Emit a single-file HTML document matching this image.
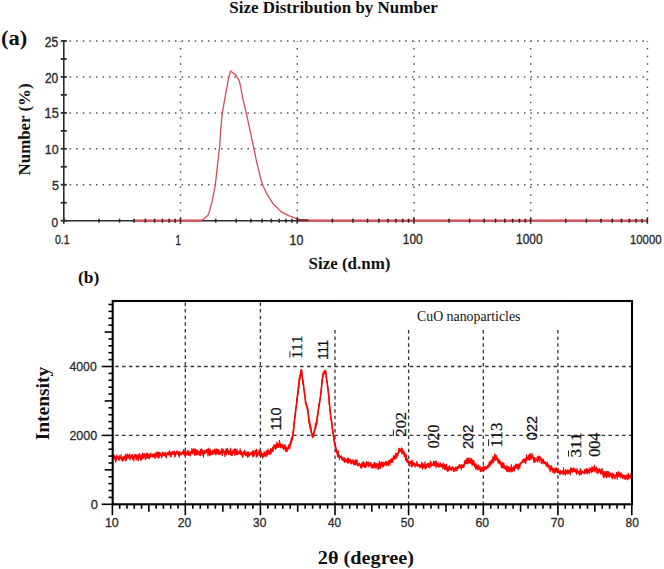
<!DOCTYPE html><html><head><meta charset="utf-8"><style>html,body{margin:0;padding:0;background:#fff;width:664px;height:569px;overflow:hidden}svg{display:block}</style></head><body>
<svg width="664" height="569" viewBox="0 0 664 569">
<rect width="664" height="569" fill="#fff"/>
<line x1="63.8" y1="184.76" x2="647.90" y2="184.76" stroke="#555" stroke-width="1.5" stroke-dasharray="1.5 5.084" stroke-dashoffset="-5.834"/>
<line x1="63.8" y1="148.82" x2="647.90" y2="148.82" stroke="#555" stroke-width="1.5" stroke-dasharray="1.5 5.084" stroke-dashoffset="-5.834"/>
<line x1="63.8" y1="112.88" x2="647.90" y2="112.88" stroke="#555" stroke-width="1.5" stroke-dasharray="1.5 5.084" stroke-dashoffset="-5.834"/>
<line x1="63.8" y1="76.94" x2="647.90" y2="76.94" stroke="#555" stroke-width="1.5" stroke-dasharray="1.5 5.084" stroke-dashoffset="-5.834"/>
<line x1="63.8" y1="41.00" x2="647.90" y2="41.00" stroke="#555" stroke-width="1.5" stroke-dasharray="1.5 5.084" stroke-dashoffset="-5.834"/>
<line x1="180.52" y1="41.00" x2="180.52" y2="220.70" stroke="#555" stroke-width="1.5" stroke-dasharray="1.5 6.200" stroke-dashoffset="0.75"/>
<line x1="297.24" y1="41.00" x2="297.24" y2="220.70" stroke="#555" stroke-width="1.5" stroke-dasharray="1.5 6.200" stroke-dashoffset="0.75"/>
<line x1="413.96" y1="41.00" x2="413.96" y2="220.70" stroke="#555" stroke-width="1.5" stroke-dasharray="1.5 6.200" stroke-dashoffset="0.75"/>
<line x1="530.68" y1="41.00" x2="530.68" y2="220.70" stroke="#555" stroke-width="1.5" stroke-dasharray="1.5 6.200" stroke-dashoffset="0.75"/>
<line x1="647.40" y1="41.00" x2="647.40" y2="220.70" stroke="#555" stroke-width="1.5" stroke-dasharray="1.5 6.200" stroke-dashoffset="0.75"/>
<line x1="63.8" y1="40.20" x2="63.8" y2="221.50" stroke="#2b2b2b" stroke-width="1.6"/>
<line x1="60.8" y1="220.70" x2="66.8" y2="220.70" stroke="#2b2b2b" stroke-width="1.8"/>
<line x1="60.8" y1="202.73" x2="66.8" y2="202.73" stroke="#2b2b2b" stroke-width="1.8"/>
<line x1="60.8" y1="184.76" x2="66.8" y2="184.76" stroke="#2b2b2b" stroke-width="1.8"/>
<line x1="60.8" y1="166.79" x2="66.8" y2="166.79" stroke="#2b2b2b" stroke-width="1.8"/>
<line x1="60.8" y1="148.82" x2="66.8" y2="148.82" stroke="#2b2b2b" stroke-width="1.8"/>
<line x1="60.8" y1="130.85" x2="66.8" y2="130.85" stroke="#2b2b2b" stroke-width="1.8"/>
<line x1="60.8" y1="112.88" x2="66.8" y2="112.88" stroke="#2b2b2b" stroke-width="1.8"/>
<line x1="60.8" y1="94.91" x2="66.8" y2="94.91" stroke="#2b2b2b" stroke-width="1.8"/>
<line x1="60.8" y1="76.94" x2="66.8" y2="76.94" stroke="#2b2b2b" stroke-width="1.8"/>
<line x1="60.8" y1="58.97" x2="66.8" y2="58.97" stroke="#2b2b2b" stroke-width="1.8"/>
<line x1="60.8" y1="41.00" x2="66.8" y2="41.00" stroke="#2b2b2b" stroke-width="1.8"/>
<line x1="63.8" y1="220.7" x2="647.90" y2="220.7" stroke="#2b2b2b" stroke-width="1.6"/>
<polyline fill="none" stroke="#dc4c56" stroke-width="1.3" stroke-linejoin="round" points="200.80,220.70 203.60,219.00 207.90,215.40 209.50,211.20 212.10,201.30 215.30,185.10 217.40,166.10 218.80,153.50 219.80,145.00 220.80,128.40 222.30,112.90 225.80,93.20 228.90,77.00 230.60,70.90 235.70,74.90 239.20,80.60 240.40,85.50 242.70,98.20 246.30,113.00 249.10,126.30 254.00,148.90 256.20,160.00 258.60,170.00 260.70,178.50 262.60,184.70 267.00,194.10 273.00,203.70 281.00,211.60 288.70,215.60 297.00,218.90 300.00,219.50"/>
<line x1="134.07" y1="220.7" x2="201.5" y2="220.7" stroke="#dc4c56" stroke-width="2.2"/>
<line x1="298" y1="220.29999999999998" x2="308.5" y2="220.29999999999998" stroke="#8a2a2e" stroke-width="2.4"/>
<line x1="308.5" y1="220.7" x2="647.90" y2="220.7" stroke="#dc4c56" stroke-width="2.2"/>
<line x1="63.80" y1="217.7" x2="63.80" y2="223.7" stroke="#2b2b2b" stroke-width="1.6"/>
<line x1="98.94" y1="218.7" x2="98.94" y2="222.7" stroke="#2b2b2b" stroke-width="1.6"/>
<line x1="119.49" y1="218.7" x2="119.49" y2="222.7" stroke="#2b2b2b" stroke-width="1.6"/>
<line x1="134.07" y1="218.7" x2="134.07" y2="222.7" stroke="#2b2b2b" stroke-width="1.6"/>
<line x1="145.38" y1="218.7" x2="145.38" y2="222.7" stroke="#2b2b2b" stroke-width="1.6"/>
<line x1="154.63" y1="218.7" x2="154.63" y2="222.7" stroke="#2b2b2b" stroke-width="1.6"/>
<line x1="162.44" y1="218.7" x2="162.44" y2="222.7" stroke="#2b2b2b" stroke-width="1.6"/>
<line x1="169.21" y1="218.7" x2="169.21" y2="222.7" stroke="#2b2b2b" stroke-width="1.6"/>
<line x1="175.18" y1="218.7" x2="175.18" y2="222.7" stroke="#2b2b2b" stroke-width="1.6"/>
<line x1="180.52" y1="217.7" x2="180.52" y2="223.7" stroke="#2b2b2b" stroke-width="1.6"/>
<line x1="215.66" y1="218.7" x2="215.66" y2="222.7" stroke="#2b2b2b" stroke-width="1.6"/>
<line x1="236.21" y1="218.7" x2="236.21" y2="222.7" stroke="#2b2b2b" stroke-width="1.6"/>
<line x1="250.79" y1="218.7" x2="250.79" y2="222.7" stroke="#2b2b2b" stroke-width="1.6"/>
<line x1="262.10" y1="218.7" x2="262.10" y2="222.7" stroke="#2b2b2b" stroke-width="1.6"/>
<line x1="271.35" y1="218.7" x2="271.35" y2="222.7" stroke="#2b2b2b" stroke-width="1.6"/>
<line x1="279.16" y1="218.7" x2="279.16" y2="222.7" stroke="#2b2b2b" stroke-width="1.6"/>
<line x1="285.93" y1="218.7" x2="285.93" y2="222.7" stroke="#2b2b2b" stroke-width="1.6"/>
<line x1="291.90" y1="218.7" x2="291.90" y2="222.7" stroke="#2b2b2b" stroke-width="1.6"/>
<line x1="297.24" y1="217.7" x2="297.24" y2="223.7" stroke="#2b2b2b" stroke-width="1.6"/>
<line x1="332.38" y1="218.7" x2="332.38" y2="222.7" stroke="#2b2b2b" stroke-width="1.6"/>
<line x1="352.93" y1="218.7" x2="352.93" y2="222.7" stroke="#2b2b2b" stroke-width="1.6"/>
<line x1="367.51" y1="218.7" x2="367.51" y2="222.7" stroke="#2b2b2b" stroke-width="1.6"/>
<line x1="378.82" y1="218.7" x2="378.82" y2="222.7" stroke="#2b2b2b" stroke-width="1.6"/>
<line x1="388.07" y1="218.7" x2="388.07" y2="222.7" stroke="#2b2b2b" stroke-width="1.6"/>
<line x1="395.88" y1="218.7" x2="395.88" y2="222.7" stroke="#2b2b2b" stroke-width="1.6"/>
<line x1="402.65" y1="218.7" x2="402.65" y2="222.7" stroke="#2b2b2b" stroke-width="1.6"/>
<line x1="408.62" y1="218.7" x2="408.62" y2="222.7" stroke="#2b2b2b" stroke-width="1.6"/>
<line x1="413.96" y1="217.7" x2="413.96" y2="223.7" stroke="#2b2b2b" stroke-width="1.6"/>
<line x1="449.10" y1="218.7" x2="449.10" y2="222.7" stroke="#2b2b2b" stroke-width="1.6"/>
<line x1="469.65" y1="218.7" x2="469.65" y2="222.7" stroke="#2b2b2b" stroke-width="1.6"/>
<line x1="484.23" y1="218.7" x2="484.23" y2="222.7" stroke="#2b2b2b" stroke-width="1.6"/>
<line x1="495.54" y1="218.7" x2="495.54" y2="222.7" stroke="#2b2b2b" stroke-width="1.6"/>
<line x1="504.79" y1="218.7" x2="504.79" y2="222.7" stroke="#2b2b2b" stroke-width="1.6"/>
<line x1="512.60" y1="218.7" x2="512.60" y2="222.7" stroke="#2b2b2b" stroke-width="1.6"/>
<line x1="519.37" y1="218.7" x2="519.37" y2="222.7" stroke="#2b2b2b" stroke-width="1.6"/>
<line x1="525.34" y1="218.7" x2="525.34" y2="222.7" stroke="#2b2b2b" stroke-width="1.6"/>
<line x1="530.68" y1="217.7" x2="530.68" y2="223.7" stroke="#2b2b2b" stroke-width="1.6"/>
<line x1="565.82" y1="218.7" x2="565.82" y2="222.7" stroke="#2b2b2b" stroke-width="1.6"/>
<line x1="586.37" y1="218.7" x2="586.37" y2="222.7" stroke="#2b2b2b" stroke-width="1.6"/>
<line x1="600.95" y1="218.7" x2="600.95" y2="222.7" stroke="#2b2b2b" stroke-width="1.6"/>
<line x1="612.26" y1="218.7" x2="612.26" y2="222.7" stroke="#2b2b2b" stroke-width="1.6"/>
<line x1="621.51" y1="218.7" x2="621.51" y2="222.7" stroke="#2b2b2b" stroke-width="1.6"/>
<line x1="629.32" y1="218.7" x2="629.32" y2="222.7" stroke="#2b2b2b" stroke-width="1.6"/>
<line x1="636.09" y1="218.7" x2="636.09" y2="222.7" stroke="#2b2b2b" stroke-width="1.6"/>
<line x1="642.06" y1="218.7" x2="642.06" y2="222.7" stroke="#2b2b2b" stroke-width="1.6"/>
<line x1="647.40" y1="217.7" x2="647.40" y2="223.7" stroke="#2b2b2b" stroke-width="1.6"/>
<line x1="112.7" y1="435.40" x2="632.0" y2="435.40" stroke="#333" stroke-width="1.3" stroke-dasharray="3.5 3.35" stroke-dashoffset="-2.5"/>
<line x1="112.7" y1="366.50" x2="632.0" y2="366.50" stroke="#333" stroke-width="1.3" stroke-dasharray="3.5 3.35" stroke-dashoffset="-2.5"/>
<line x1="185.30" y1="301.0" x2="185.30" y2="504.3" stroke="#333" stroke-width="1.3" stroke-dasharray="3.5 3.1" stroke-dashoffset="-1.5"/>
<line x1="260.40" y1="301.0" x2="260.40" y2="504.3" stroke="#333" stroke-width="1.3" stroke-dasharray="3.5 3.1" stroke-dashoffset="-1.5"/>
<line x1="335.00" y1="328.5" x2="335.00" y2="504.3" stroke="#333" stroke-width="1.3" stroke-dasharray="3.5 3.1" stroke-dashoffset="-1.5"/>
<line x1="408.60" y1="328.5" x2="408.60" y2="504.3" stroke="#333" stroke-width="1.3" stroke-dasharray="3.5 3.1" stroke-dashoffset="-1.5"/>
<line x1="483.30" y1="328.5" x2="483.30" y2="504.3" stroke="#333" stroke-width="1.3" stroke-dasharray="3.5 3.1" stroke-dashoffset="-1.5"/>
<line x1="557.90" y1="328.5" x2="557.90" y2="504.3" stroke="#333" stroke-width="1.3" stroke-dasharray="3.5 3.1" stroke-dashoffset="-1.5"/>
<polyline fill="none" stroke="#f00" stroke-width="1.2" stroke-linejoin="round" points="112.6,457.4 112.9,456.2 113.2,457.9 113.5,458.1 113.8,454.8 114.1,455.5 114.4,457.6 114.7,455.8 115.0,459.6 115.3,456.9 115.6,462.3 115.9,457.1 116.2,456.3 116.5,460.3 116.8,455.0 117.1,456.6 117.4,458.5 117.7,456.3 118.0,458.4 118.3,458.8 118.6,457.3 118.9,460.5 119.2,455.6 119.5,459.8 119.8,458.9 120.1,457.9 120.4,457.6 120.7,457.5 121.0,454.6 121.3,457.3 121.6,459.9 121.9,459.8 122.2,457.1 122.5,461.1 122.8,457.7 123.1,459.0 123.4,460.3 123.7,456.6 124.0,457.1 124.3,457.5 124.6,456.1 124.9,459.6 125.2,455.6 125.5,460.8 125.8,454.2 126.1,460.3 126.4,460.0 126.7,456.6 127.0,458.3 127.3,454.1 127.6,455.7 127.9,458.0 128.2,458.0 128.5,457.0 128.8,454.8 129.1,457.7 129.4,456.6 129.7,453.8 130.0,460.0 130.3,457.5 130.6,456.3 130.9,458.2 131.2,455.1 131.5,455.3 131.8,456.2 132.1,455.0 132.4,454.5 132.7,459.4 133.0,458.0 133.3,456.5 133.6,457.2 133.9,461.0 134.2,456.3 134.5,454.5 134.8,455.8 135.1,456.3 135.4,454.9 135.7,454.4 136.0,458.0 136.3,459.8 136.6,458.7 136.9,455.4 137.2,454.9 137.5,457.4 137.8,455.9 138.1,461.0 138.4,459.3 138.7,456.7 139.0,454.3 139.3,453.7 139.6,453.7 139.9,458.4 140.2,457.6 140.5,460.1 140.8,458.9 141.1,455.3 141.4,455.0 141.7,460.0 142.0,457.4 142.3,458.4 142.6,453.0 142.9,456.7 143.2,457.4 143.5,458.2 143.8,456.1 144.1,453.7 144.4,457.0 144.7,454.0 145.0,455.1 145.3,459.6 145.6,455.2 145.9,455.3 146.2,455.0 146.5,453.2 146.8,458.5 147.1,458.0 147.4,456.8 147.7,453.4 148.0,454.5 148.3,457.2 148.6,454.3 148.9,458.7 149.2,454.2 149.5,458.7 149.8,456.4 150.1,455.7 150.4,457.0 150.7,454.1 151.0,453.1 151.3,455.3 151.6,456.6 151.9,455.7 152.2,456.2 152.5,455.8 152.8,454.0 153.1,457.2 153.4,456.2 153.7,453.6 154.0,455.4 154.3,456.8 154.6,454.5 154.9,458.1 155.2,458.2 155.5,452.8 155.8,457.4 156.1,452.8 156.4,453.0 156.7,454.1 157.0,452.2 157.3,456.6 157.6,453.1 157.9,452.1 158.2,458.2 158.5,458.0 158.8,452.3 159.1,457.5 159.4,452.4 159.7,454.7 160.0,452.8 160.3,453.5 160.6,455.3 160.9,454.2 161.2,455.5 161.5,457.9 161.8,457.1 162.1,453.5 162.4,452.3 162.7,452.1 163.0,455.7 163.3,452.6 163.6,453.6 163.9,455.5 164.2,453.5 164.5,454.7 164.8,453.2 165.1,456.1 165.4,452.3 165.7,456.6 166.0,453.8 166.3,458.0 166.6,453.8 166.9,453.7 167.2,452.3 167.5,452.9 167.8,452.8 168.1,454.4 168.4,454.7 168.7,452.1 169.0,454.1 169.3,454.7 169.6,450.5 169.9,452.1 170.2,455.2 170.5,456.6 170.8,452.3 171.1,457.0 171.4,453.8 171.7,453.8 172.0,453.3 172.3,452.0 172.6,451.4 172.9,451.3 173.2,452.3 173.5,453.6 173.8,452.6 174.1,454.3 174.4,451.2 174.7,456.8 175.0,456.1 175.3,456.4 175.6,452.6 175.9,453.1 176.2,453.0 176.5,453.7 176.8,450.7 177.1,453.4 177.4,451.6 177.7,452.1 178.0,452.8 178.3,454.3 178.6,455.4 178.9,451.9 179.2,457.2 179.5,455.4 179.8,451.6 180.1,452.8 180.4,455.0 180.7,453.1 181.0,454.1 181.3,454.1 181.6,454.8 181.9,453.7 182.2,452.1 182.5,452.5 182.8,451.4 183.1,453.1 183.4,453.6 183.7,449.4 184.0,455.0 184.3,452.4 184.6,455.3 184.9,452.2 185.2,450.4 185.5,452.6 185.8,455.5 186.1,452.2 186.4,452.4 186.7,452.5 187.0,454.3 187.3,451.7 187.6,454.1 187.9,451.0 188.2,450.2 188.5,455.3 188.8,453.7 189.1,453.6 189.4,453.9 189.7,452.2 190.0,455.9 190.3,452.5 190.6,455.6 190.9,451.3 191.2,451.6 191.5,453.1 191.8,448.7 192.1,450.3 192.4,453.0 192.7,453.9 193.0,451.8 193.3,449.3 193.6,448.8 193.9,451.5 194.2,450.1 194.5,455.2 194.8,449.6 195.1,448.8 195.4,454.8 195.7,449.6 196.0,449.5 196.3,454.9 196.6,451.2 196.9,450.1 197.2,450.5 197.5,454.6 197.8,450.9 198.1,451.6 198.4,453.4 198.7,453.9 199.0,454.9 199.3,451.8 199.6,455.1 199.9,452.6 200.2,453.6 200.5,449.3 200.8,455.7 201.1,452.2 201.4,451.1 201.7,448.8 202.0,453.1 202.3,452.8 202.6,450.7 202.9,455.3 203.2,452.7 203.5,457.1 203.8,452.5 204.1,450.4 204.4,452.0 204.7,451.3 205.0,453.8 205.3,451.0 205.6,451.1 205.9,451.3 206.2,449.4 206.5,452.2 206.8,451.3 207.1,449.5 207.4,451.0 207.7,452.8 208.0,456.0 208.3,448.1 208.6,449.1 208.9,450.5 209.2,453.6 209.5,454.9 209.8,455.6 210.1,449.1 210.4,450.5 210.7,454.2 211.0,454.7 211.3,452.8 211.6,451.8 211.9,453.9 212.2,451.7 212.5,450.6 212.8,450.1 213.1,454.6 213.4,450.9 213.7,453.2 214.0,451.8 214.3,450.4 214.6,449.1 214.9,453.7 215.2,454.0 215.5,450.9 215.8,454.9 216.1,448.8 216.4,451.9 216.7,450.1 217.0,453.8 217.3,449.2 217.6,450.3 217.9,451.1 218.2,454.0 218.5,449.6 218.8,454.6 219.1,452.1 219.4,450.7 219.7,454.3 220.0,452.5 220.3,452.3 220.6,453.7 220.9,451.5 221.2,451.0 221.5,449.5 221.8,448.3 222.1,455.7 222.4,455.5 222.7,451.2 223.0,451.6 223.3,449.0 223.6,452.7 223.9,451.8 224.2,451.0 224.5,451.4 224.8,456.5 225.1,452.0 225.4,452.1 225.7,450.6 226.0,448.9 226.3,455.0 226.6,449.4 226.9,450.8 227.2,452.3 227.5,448.3 227.8,451.2 228.1,451.6 228.4,454.5 228.7,450.6 229.0,454.7 229.3,453.3 229.6,451.3 229.9,454.0 230.2,453.7 230.5,448.2 230.8,448.9 231.1,455.5 231.4,451.8 231.7,453.3 232.0,455.6 232.3,455.2 232.6,454.6 232.9,450.4 233.2,450.5 233.5,451.1 233.8,450.7 234.1,449.3 234.4,449.1 234.7,455.2 235.0,455.5 235.3,450.0 235.6,448.9 235.9,452.3 236.2,450.0 236.5,454.2 236.8,454.8 237.1,449.4 237.4,454.5 237.7,453.0 238.0,454.5 238.3,451.9 238.6,451.7 238.9,451.3 239.2,453.4 239.5,451.5 239.8,453.7 240.1,448.9 240.4,453.9 240.7,454.6 241.0,450.7 241.3,452.1 241.6,454.9 241.9,452.1 242.2,455.4 242.5,455.7 242.8,457.5 243.1,455.4 243.4,452.0 243.7,452.5 244.0,451.5 244.3,451.5 244.6,450.4 244.9,453.1 245.2,453.2 245.5,455.5 245.8,451.9 246.1,454.6 246.4,455.0 246.7,455.2 247.0,453.1 247.3,457.1 247.6,451.9 247.9,452.9 248.2,456.6 248.5,451.8 248.8,455.1 249.1,456.1 249.4,453.5 249.7,455.2 250.0,453.4 250.3,454.0 250.6,454.7 250.9,454.1 251.2,452.3 251.5,452.2 251.8,454.0 252.1,453.2 252.4,455.8 252.7,451.1 253.0,457.0 253.3,450.6 253.6,454.6 253.9,455.2 254.2,456.0 254.5,452.8 254.8,453.6 255.1,450.2 255.4,450.9 255.7,453.2 256.0,451.1 256.3,457.1 256.6,449.4 256.9,450.2 257.2,456.3 257.5,454.5 257.8,454.0 258.1,454.8 258.4,452.6 258.7,452.5 259.0,450.1 259.3,451.4 259.6,455.4 259.9,450.9 260.2,453.9 260.5,453.6 260.8,450.4 261.1,451.4 261.4,455.7 261.7,456.1 262.0,454.8 262.3,453.5 262.6,457.6 262.9,458.1 263.2,455.5 263.5,456.4 263.8,455.7 264.1,451.5 264.4,455.9 264.7,452.7 265.0,456.1 265.3,453.6 265.6,455.9 265.9,456.6 266.2,451.4 266.5,452.9 266.8,450.4 267.1,455.9 267.4,454.2 267.7,454.1 268.0,449.1 268.3,451.4 268.6,453.6 268.9,454.1 269.2,450.8 269.5,451.3 269.8,453.4 270.1,454.6 270.4,450.7 270.7,448.3 271.0,453.7 271.3,449.5 271.6,452.2 271.9,450.9 272.2,448.8 272.5,447.4 272.8,449.0 273.1,451.7 273.4,446.6 273.7,446.6 274.0,444.8 274.3,447.2 274.6,444.9 274.9,444.9 275.2,447.2 275.5,449.3 275.8,445.0 276.1,447.2 276.4,448.2 276.7,443.5 277.0,442.1 277.3,443.9 277.6,444.6 277.9,447.5 278.2,444.1 278.5,445.3 278.8,444.7 279.1,447.1 279.4,440.3 279.7,442.3 280.0,442.7 280.3,445.6 280.6,447.8 280.9,445.2 281.2,444.4 281.5,446.6 281.8,444.2 282.1,445.3 282.4,447.7 282.7,444.8 283.0,446.3 283.3,449.0 283.6,449.4 283.9,445.2 284.2,446.8 284.5,448.5 284.8,445.3 285.1,444.8 285.4,451.1 285.7,446.8 286.0,451.1 286.3,447.0 286.6,450.6 286.9,451.7 287.2,449.2 287.5,450.5 287.8,448.8 288.1,449.1 288.4,447.0 288.7,445.0 289.0,444.8 289.3,448.6 289.6,444.2 289.9,448.2 290.2,444.3 290.5,441.6 290.8,443.4 291.1,442.4 291.4,437.5 291.7,441.1 292.0,440.6 292.3,439.3 292.6,439.0 292.9,432.7 293.2,431.2 293.5,431.7 293.8,428.2 294.1,422.1 294.4,420.5 294.7,418.3 295.0,415.5 295.3,412.8 295.6,410.2 295.9,407.3 296.2,407.8 296.5,404.8 296.8,398.0 297.1,401.1 297.4,395.3 297.7,391.3 298.0,394.9 298.3,387.7 298.6,383.8 298.9,388.0 299.2,377.9 299.5,381.9 299.8,375.7 300.1,378.7 300.4,374.1 300.7,371.2 301.0,372.2 301.3,370.5 301.6,369.6 301.9,374.5 302.2,376.4 302.5,378.2 302.8,384.1 303.1,380.5 303.4,382.8 303.7,388.8 304.0,389.1 304.3,391.1 304.6,394.2 304.9,395.9 305.2,397.5 305.5,403.4 305.8,403.8 306.1,402.9 306.4,405.9 306.7,405.1 307.0,408.8 307.3,406.7 307.6,410.4 307.9,409.2 308.2,412.4 308.5,415.9 308.8,418.8 309.1,423.9 309.4,419.9 309.7,422.7 310.0,428.2 310.3,424.8 310.6,425.8 310.9,427.3 311.2,431.0 311.5,434.3 311.8,433.9 312.1,435.1 312.4,434.0 312.7,437.6 313.0,437.1 313.3,436.5 313.6,433.2 313.9,436.0 314.2,432.6 314.5,430.0 314.8,429.5 315.1,429.3 315.4,423.6 315.7,428.2 316.0,426.0 316.3,424.7 316.6,422.2 316.9,423.7 317.2,415.8 317.5,414.7 317.8,414.7 318.1,412.8 318.4,408.9 318.7,406.8 319.0,403.3 319.3,405.4 319.6,401.7 319.9,399.6 320.2,398.6 320.5,396.9 320.8,392.7 321.1,393.2 321.4,387.7 321.7,385.0 322.0,379.1 322.3,381.7 322.6,376.5 322.9,376.8 323.2,375.0 323.5,374.3 323.8,371.8 324.1,374.1 324.4,373.0 324.7,371.1 325.0,370.2 325.3,371.5 325.6,373.6 325.9,371.5 326.2,377.1 326.5,378.2 326.8,382.2 327.1,381.7 327.4,384.2 327.7,388.2 328.0,387.7 328.3,392.6 328.6,393.8 328.9,396.3 329.2,403.7 329.5,405.8 329.8,409.5 330.1,411.6 330.4,413.9 330.7,418.7 331.0,419.6 331.3,418.9 331.6,421.2 331.9,421.8 332.2,429.2 332.5,430.5 332.8,431.5 333.1,433.8 333.4,436.6 333.7,437.3 334.0,438.9 334.3,442.3 334.6,443.3 334.9,443.3 335.2,446.9 335.5,445.5 335.8,447.5 336.1,451.9 336.4,448.4 336.7,451.5 337.0,453.7 337.3,451.7 337.6,457.1 337.9,455.1 338.2,450.5 338.5,456.6 338.8,455.2 339.1,455.5 339.4,459.8 339.7,457.6 340.0,456.3 340.3,456.3 340.6,457.5 340.9,456.5 341.2,455.8 341.5,456.2 341.8,459.3 342.1,457.5 342.4,459.7 342.7,460.3 343.0,457.7 343.3,460.4 343.6,460.3 343.9,460.8 344.2,461.9 344.5,458.8 344.8,457.8 345.1,462.5 345.4,461.6 345.7,459.2 346.0,460.1 346.3,460.0 346.6,461.7 346.9,461.3 347.2,462.4 347.5,458.0 347.8,463.2 348.1,459.2 348.4,462.8 348.7,458.2 349.0,458.9 349.3,460.7 349.6,461.9 349.9,461.1 350.2,459.2 350.5,462.3 350.8,463.4 351.1,460.5 351.4,463.9 351.7,460.4 352.0,462.0 352.3,460.7 352.6,459.8 352.9,463.1 353.2,460.2 353.5,464.4 353.8,461.4 354.1,461.1 354.4,464.1 354.7,464.6 355.0,465.0 355.3,459.5 355.6,463.7 355.9,465.0 356.2,463.2 356.5,460.3 356.8,459.9 357.1,460.1 357.4,462.7 357.7,465.8 358.0,464.8 358.3,465.1 358.6,463.9 358.9,466.0 359.2,463.1 359.5,463.2 359.8,464.4 360.1,464.5 360.4,465.0 360.7,467.8 361.0,466.2 361.3,464.7 361.6,468.1 361.9,462.6 362.2,464.9 362.5,465.4 362.8,466.5 363.1,462.6 363.4,461.7 363.7,466.2 364.0,466.9 364.3,466.7 364.6,467.4 364.9,462.7 365.2,467.4 365.5,466.2 365.8,464.8 366.1,467.2 366.4,463.1 366.7,461.5 367.0,465.2 367.3,462.4 367.6,463.5 367.9,463.3 368.2,463.0 368.5,462.1 368.8,466.8 369.1,464.2 369.4,464.5 369.7,463.0 370.0,462.9 370.3,464.8 370.6,464.1 370.9,462.3 371.2,467.9 371.5,466.2 371.8,467.5 372.1,465.1 372.4,465.5 372.7,468.2 373.0,466.4 373.3,463.9 373.6,465.2 373.9,467.7 374.2,467.8 374.5,462.4 374.8,463.6 375.1,462.8 375.4,466.2 375.7,467.2 376.0,468.6 376.3,464.9 376.6,463.4 376.9,465.3 377.2,467.0 377.5,464.0 377.8,465.7 378.1,469.6 378.4,463.8 378.7,464.1 379.0,468.5 379.3,461.2 379.6,466.1 379.9,466.5 380.2,462.8 380.5,468.3 380.8,465.3 381.1,467.1 381.4,461.8 381.7,462.8 382.0,464.6 382.3,462.8 382.6,466.7 382.9,462.6 383.2,462.0 383.5,466.5 383.8,466.6 384.1,463.4 384.4,462.9 384.7,464.0 385.0,462.7 385.3,464.8 385.6,464.8 385.9,461.4 386.2,464.4 386.5,465.5 386.8,461.6 387.1,462.1 387.4,465.0 387.7,463.5 388.0,462.3 388.3,465.6 388.6,461.2 388.9,460.4 389.2,462.5 389.5,461.5 389.8,464.6 390.1,464.9 390.4,459.4 390.7,460.9 391.0,462.4 391.3,460.5 391.6,462.5 391.9,458.0 392.2,461.7 392.5,459.4 392.8,462.3 393.1,458.1 393.4,457.2 393.7,455.5 394.0,456.6 394.3,458.4 394.6,456.5 394.9,459.5 395.2,458.3 395.5,453.5 395.8,456.3 396.1,453.6 396.4,456.2 396.7,458.2 397.0,455.9 397.3,453.8 397.6,455.6 397.9,455.5 398.2,452.3 398.5,453.6 398.8,448.2 399.1,451.6 399.4,448.7 399.7,451.9 400.0,449.7 400.3,451.6 400.6,449.5 400.9,449.2 401.2,449.8 401.5,447.8 401.8,453.9 402.1,449.3 402.4,449.9 402.7,448.9 403.0,453.2 403.3,453.3 403.6,452.4 403.9,451.2 404.2,456.6 404.5,452.5 404.8,454.9 405.1,453.9 405.4,456.8 405.7,460.1 406.0,454.3 406.3,455.5 406.6,461.3 406.9,458.3 407.2,460.8 407.5,462.6 407.8,461.9 408.1,460.6 408.4,462.6 408.7,464.3 409.0,464.5 409.3,462.5 409.6,466.1 409.9,462.2 410.2,463.1 410.5,461.3 410.8,462.7 411.1,461.2 411.4,466.6 411.7,462.6 412.0,466.9 412.3,460.0 412.6,464.7 412.9,464.0 413.2,465.5 413.5,462.4 413.8,462.8 414.1,464.2 414.4,463.3 414.7,465.1 415.0,467.1 415.3,464.9 415.6,465.7 415.9,463.4 416.2,463.5 416.5,464.2 416.8,461.4 417.1,465.6 417.4,465.5 417.7,466.3 418.0,464.2 418.3,465.0 418.6,464.4 418.9,466.2 419.2,464.7 419.5,464.6 419.8,467.8 420.1,466.6 420.4,465.0 420.7,467.2 421.0,465.1 421.3,466.0 421.6,462.4 421.9,467.7 422.2,463.7 422.5,469.2 422.8,463.3 423.1,467.5 423.4,467.4 423.7,464.8 424.0,467.3 424.3,464.4 424.6,467.1 424.9,461.8 425.2,469.3 425.5,466.2 425.8,466.6 426.1,464.8 426.4,467.9 426.7,463.9 427.0,463.8 427.3,464.4 427.6,463.8 427.9,463.9 428.2,467.4 428.5,464.0 428.8,463.0 429.1,465.8 429.4,466.9 429.7,464.7 430.0,467.9 430.3,461.2 430.6,464.3 430.9,461.8 431.2,463.2 431.5,466.2 431.8,465.7 432.1,464.5 432.4,464.9 432.7,465.3 433.0,464.5 433.3,463.9 433.6,461.1 433.9,465.1 434.2,466.1 434.5,462.7 434.8,462.0 435.1,461.5 435.4,464.7 435.7,462.8 436.0,467.7 436.3,461.2 436.6,466.3 436.9,466.1 437.2,466.4 437.5,463.5 437.8,464.2 438.1,462.7 438.4,464.9 438.7,467.2 439.0,466.4 439.3,466.9 439.6,463.8 439.9,463.9 440.2,466.3 440.5,462.9 440.8,464.8 441.1,466.2 441.4,466.9 441.7,465.2 442.0,464.3 442.3,464.7 442.6,464.1 442.9,468.9 443.2,467.0 443.5,463.1 443.8,467.5 444.1,466.8 444.4,464.6 444.7,469.5 445.0,466.8 445.3,467.0 445.6,465.2 445.9,469.2 446.2,466.4 446.5,464.1 446.8,470.4 447.1,469.3 447.4,469.0 447.7,471.4 448.0,468.2 448.3,466.9 448.6,469.2 448.9,470.8 449.2,468.0 449.5,465.5 449.8,468.1 450.1,468.9 450.4,469.4 450.7,468.3 451.0,468.2 451.3,470.6 451.6,467.7 451.9,467.8 452.2,468.3 452.5,468.1 452.8,466.7 453.1,467.2 453.4,471.4 453.7,471.4 454.0,470.9 454.3,470.6 454.6,468.3 454.9,471.1 455.2,468.6 455.5,467.0 455.8,469.4 456.1,470.5 456.4,467.4 456.7,467.5 457.0,471.0 457.3,468.9 457.6,466.6 457.9,468.0 458.2,467.9 458.5,466.0 458.8,466.1 459.1,468.0 459.4,464.5 459.7,467.2 460.0,466.8 460.3,466.0 460.6,464.9 460.9,466.0 461.2,469.9 461.5,467.5 461.8,464.5 462.1,467.7 462.4,466.6 462.7,467.4 463.0,466.7 463.3,465.9 463.6,465.9 463.9,467.5 464.2,465.7 464.5,461.1 464.8,462.0 465.1,463.4 465.4,460.0 465.7,462.0 466.0,463.5 466.3,460.4 466.6,461.5 466.9,458.3 467.2,463.8 467.5,458.1 467.8,463.2 468.1,459.3 468.4,458.5 468.7,462.5 469.0,463.2 469.3,460.7 469.6,462.6 469.9,457.9 470.2,462.0 470.5,463.1 470.8,463.2 471.1,460.0 471.4,458.5 471.7,460.8 472.0,465.1 472.3,459.9 472.6,463.5 472.9,462.2 473.2,465.1 473.5,461.0 473.8,460.5 474.1,463.0 474.4,464.2 474.7,466.9 475.0,463.8 475.3,466.3 475.6,468.3 475.9,469.4 476.2,463.8 476.5,468.4 476.8,467.3 477.1,467.6 477.4,466.5 477.7,469.7 478.0,465.1 478.3,466.7 478.6,465.1 478.9,469.8 479.2,468.4 479.5,468.6 479.8,467.8 480.1,466.0 480.4,471.7 480.7,469.7 481.0,471.4 481.3,468.7 481.6,469.0 481.9,467.1 482.2,471.0 482.5,470.9 482.8,470.2 483.1,467.8 483.4,466.9 483.7,466.7 484.0,466.3 484.3,470.4 484.6,467.1 484.9,468.5 485.2,467.9 485.5,468.4 485.8,466.3 486.1,469.4 486.4,466.8 486.7,468.2 487.0,468.4 487.3,467.7 487.6,466.0 487.9,465.1 488.2,467.6 488.5,464.3 488.8,465.4 489.1,462.1 489.4,464.7 489.7,462.4 490.0,466.7 490.3,461.8 490.6,461.2 490.9,461.3 491.2,460.1 491.5,464.2 491.8,464.1 492.1,461.2 492.4,460.6 492.7,458.0 493.0,456.4 493.3,462.1 493.6,462.8 493.9,458.5 494.2,460.7 494.5,458.3 494.8,453.8 495.1,455.3 495.4,457.4 495.7,460.3 496.0,455.4 496.3,459.0 496.6,455.8 496.9,459.0 497.2,458.1 497.5,459.3 497.8,459.0 498.1,462.9 498.4,459.5 498.7,458.8 499.0,462.2 499.3,463.6 499.6,460.6 499.9,462.8 500.2,464.4 500.5,461.3 500.8,464.1 501.1,464.6 501.4,467.8 501.7,467.6 502.0,463.0 502.3,462.6 502.6,467.1 502.9,463.2 503.2,468.3 503.5,465.8 503.8,463.2 504.1,465.2 504.4,466.7 504.7,468.6 505.0,468.0 505.3,469.1 505.6,465.8 505.9,468.9 506.2,469.5 506.5,467.3 506.8,471.3 507.1,465.7 507.4,470.5 507.7,471.7 508.0,468.2 508.3,467.7 508.6,466.6 508.9,471.1 509.2,468.1 509.5,471.8 509.8,467.3 510.1,470.6 510.4,469.9 510.7,471.0 511.0,471.2 511.3,464.6 511.6,468.8 511.9,472.1 512.2,471.3 512.5,470.9 512.8,469.2 513.1,467.2 513.4,469.4 513.7,470.2 514.0,465.6 514.3,471.2 514.6,469.2 514.9,467.4 515.2,467.1 515.5,466.7 515.8,464.2 516.1,464.5 516.4,467.4 516.7,465.0 517.0,467.8 517.3,467.3 517.6,464.1 517.9,468.4 518.2,469.8 518.5,467.4 518.8,467.7 519.1,464.7 519.4,463.7 519.7,468.1 520.0,466.6 520.3,464.9 520.6,464.0 520.9,462.5 521.2,463.3 521.5,462.1 521.8,462.5 522.1,461.5 522.4,460.7 522.7,460.5 523.0,459.4 523.3,460.6 523.6,461.6 523.9,459.0 524.2,459.2 524.5,462.2 524.8,462.1 525.1,462.3 525.4,458.0 525.7,463.7 526.0,458.9 526.3,460.8 526.6,454.9 526.9,457.8 527.2,457.8 527.5,457.3 527.8,459.8 528.1,457.2 528.4,459.4 528.7,455.2 529.0,460.2 529.3,454.8 529.6,459.8 529.9,454.6 530.2,453.6 530.5,457.4 530.8,459.5 531.1,458.8 531.4,456.4 531.7,456.1 532.0,453.6 532.3,457.7 532.6,455.0 532.9,456.0 533.2,459.3 533.5,458.5 533.8,462.3 534.1,460.3 534.4,458.3 534.7,457.3 535.0,462.3 535.3,460.1 535.6,459.2 535.9,460.2 536.2,459.7 536.5,459.3 536.8,460.9 537.1,457.0 537.4,461.9 537.7,457.9 538.0,459.8 538.3,456.1 538.6,458.2 538.9,457.1 539.2,462.1 539.5,457.7 539.8,456.2 540.1,458.9 540.4,460.0 540.7,460.1 541.0,457.9 541.3,463.4 541.6,459.3 541.9,458.9 542.2,462.2 542.5,459.8 542.8,462.1 543.1,463.9 543.4,459.1 543.7,462.4 544.0,461.7 544.3,462.5 544.6,463.7 544.9,462.7 545.2,461.5 545.5,463.6 545.8,462.4 546.1,466.1 546.4,463.5 546.7,464.8 547.0,463.7 547.3,462.3 547.6,466.9 547.9,463.8 548.2,465.9 548.5,466.7 548.8,465.7 549.1,468.9 549.4,465.4 549.7,468.0 550.0,469.9 550.3,471.7 550.6,466.7 550.9,470.7 551.2,465.5 551.5,469.4 551.8,466.7 552.1,467.3 552.4,469.1 552.7,470.8 553.0,472.7 553.3,471.3 553.6,471.7 553.9,468.4 554.2,469.7 554.5,473.2 554.8,469.5 555.1,470.1 555.4,468.0 555.7,472.2 556.0,468.8 556.3,467.9 556.6,468.7 556.9,470.6 557.2,471.6 557.5,472.9 557.8,470.9 558.1,470.2 558.4,468.7 558.7,472.6 559.0,472.7 559.3,473.3 559.6,471.4 559.9,474.8 560.2,474.4 560.5,470.4 560.8,472.6 561.1,471.5 561.4,473.5 561.7,471.6 562.0,473.5 562.3,472.7 562.6,471.6 562.9,470.5 563.2,474.7 563.5,467.9 563.8,472.9 564.1,473.6 564.4,471.2 564.7,473.8 565.0,473.3 565.3,475.1 565.6,469.7 565.9,470.5 566.2,472.6 566.5,473.3 566.8,472.6 567.1,473.3 567.4,469.8 567.7,474.0 568.0,471.5 568.3,470.7 568.6,471.3 568.9,473.4 569.2,470.4 569.5,469.9 569.8,470.1 570.1,471.7 570.4,474.8 570.7,467.8 571.0,471.5 571.3,467.9 571.6,469.4 571.9,470.9 572.2,472.3 572.5,468.7 572.8,471.9 573.1,470.9 573.4,471.5 573.7,467.8 574.0,471.6 574.3,470.2 574.6,469.9 574.9,468.9 575.2,469.2 575.5,469.2 575.8,472.5 576.1,470.5 576.4,474.3 576.7,474.2 577.0,468.4 577.3,472.8 577.6,471.6 577.9,471.0 578.2,472.6 578.5,473.3 578.8,473.1 579.1,472.8 579.4,475.1 579.7,475.0 580.0,470.7 580.3,468.7 580.6,472.7 580.9,472.6 581.2,474.4 581.5,472.4 581.8,470.3 582.1,471.9 582.4,472.6 582.7,471.6 583.0,472.8 583.3,472.6 583.6,472.8 583.9,472.9 584.2,473.9 584.5,470.0 584.8,469.6 585.1,469.1 585.4,473.1 585.7,472.7 586.0,472.7 586.3,472.8 586.6,468.6 586.9,471.9 587.2,474.0 587.5,471.9 587.8,468.8 588.1,469.6 588.4,469.8 588.7,472.8 589.0,470.6 589.3,469.6 589.6,473.3 589.9,467.5 590.2,469.5 590.5,469.8 590.8,468.9 591.1,469.3 591.4,472.3 591.7,471.9 592.0,466.6 592.3,470.0 592.6,469.6 592.9,471.7 593.2,467.7 593.5,468.3 593.8,469.6 594.1,470.9 594.4,465.1 594.7,466.5 595.0,471.9 595.3,467.5 595.6,470.3 595.9,468.7 596.2,470.1 596.5,467.2 596.8,472.8 597.1,469.5 597.4,468.8 597.7,473.6 598.0,469.5 598.3,472.4 598.6,471.9 598.9,472.2 599.2,468.5 599.5,468.9 599.8,471.3 600.1,470.2 600.4,473.3 600.7,470.9 601.0,474.4 601.3,469.0 601.6,471.0 601.9,472.1 602.2,468.7 602.5,472.4 602.8,474.9 603.1,471.6 603.4,477.4 603.7,473.3 604.0,471.3 604.3,474.5 604.6,476.9 604.9,476.4 605.2,474.2 605.5,471.8 605.8,474.0 606.1,471.6 606.4,477.9 606.7,477.4 607.0,474.6 607.3,471.4 607.6,473.0 607.9,476.3 608.2,473.0 608.5,471.6 608.8,476.1 609.1,477.3 609.4,475.4 609.7,475.3 610.0,472.5 610.3,475.4 610.6,473.6 610.9,474.2 611.2,474.2 611.5,477.4 611.8,477.4 612.1,473.3 612.4,478.8 612.7,476.7 613.0,473.1 613.3,476.2 613.6,475.6 613.9,475.7 614.2,474.5 614.5,478.6 614.8,476.0 615.1,478.5 615.4,476.1 615.7,476.0 616.0,474.3 616.3,474.0 616.6,472.3 616.9,475.3 617.2,479.2 617.5,474.8 617.8,476.7 618.1,472.0 618.4,472.5 618.7,471.8 619.0,476.1 619.3,473.6 619.6,476.0 619.9,473.4 620.2,477.8 620.5,473.9 620.8,474.2 621.1,472.6 621.4,475.3 621.7,474.6 622.0,477.6 622.3,477.2 622.6,474.4 622.9,478.4 623.2,477.0 623.5,476.2 623.8,478.0 624.1,476.8 624.4,476.0 624.7,478.6 625.0,478.2 625.3,479.5 625.6,478.1 625.9,476.0 626.2,474.9 626.5,478.0 626.8,477.3 627.1,477.8 627.4,479.9 627.7,478.8 628.0,474.5 628.3,473.3 628.6,475.4 628.9,479.0 629.2,476.5 629.5,476.5 629.8,476.5 630.1,475.8 630.4,476.0 630.7,478.1 631.0,473.3"/>
<polyline fill="none" stroke="#f00" stroke-width="1.5" stroke-linejoin="round" points="112.5,457.8 122.0,458.1 134.0,456.9 146.0,456.3 158.0,455.4 170.0,454.2 182.0,453.3 195.0,452.6 210.0,452.3 225.0,452.3 237.0,452.6 243.0,454.0 255.0,453.3 264.0,454.0 270.0,451.8 276.4,445.8 279.7,445.0 283.5,447.5 287.4,448.9 290.3,445.0 292.8,435.4 296.0,408.3 299.0,383.0 301.3,369.7 303.2,383.2 305.7,402.5 307.5,408.0 308.6,418.0 312.5,437.3 316.4,423.8 320.2,398.6 323.1,373.0 325.5,370.6 328.0,389.0 330.9,418.0 333.8,437.3 334.8,444.5 336.6,451.7 339.6,456.5 344.5,460.1 350.5,460.9 354.1,462.5 358.9,464.6 366.0,464.9 374.6,465.3 383.0,464.3 390.2,462.5 395.1,457.0 397.5,453.5 399.5,451.2 401.1,450.6 402.8,451.6 405.0,456.0 409.0,462.5 415.7,465.3 424.1,465.9 433.7,464.1 438.6,464.7 445.8,467.1 453.0,468.9 461.4,467.1 465.7,462.9 468.7,460.5 472.3,461.7 475.9,466.5 480.0,468.6 483.6,469.5 488.4,465.9 492.0,461.1 495.1,456.3 498.1,461.1 502.9,465.9 508.9,470.1 516.1,467.7 522.2,462.3 528.2,458.1 531.8,456.3 535.4,459.9 540.2,458.7 546.3,464.1 552.3,468.9 558.3,472.3 564.6,472.3 574.3,471.1 583.9,472.3 589.9,470.5 594.8,468.7 599.6,471.1 605.6,474.1 612.8,475.9 622.5,475.9 631.0,475.5"/>
<rect x="112.7" y="301.0" width="519.30" height="203.30" fill="none" stroke="#000" stroke-width="2.1"/>
<line x1="101.70" y1="504.30" x2="112.7" y2="504.30" stroke="#000" stroke-width="1.6"/>
<line x1="108.50" y1="497.41" x2="112.7" y2="497.41" stroke="#000" stroke-width="1.6"/>
<line x1="108.50" y1="490.52" x2="112.7" y2="490.52" stroke="#000" stroke-width="1.6"/>
<line x1="108.50" y1="483.63" x2="112.7" y2="483.63" stroke="#000" stroke-width="1.6"/>
<line x1="108.50" y1="476.74" x2="112.7" y2="476.74" stroke="#000" stroke-width="1.6"/>
<line x1="104.70" y1="469.85" x2="112.7" y2="469.85" stroke="#000" stroke-width="1.6"/>
<line x1="108.50" y1="462.96" x2="112.7" y2="462.96" stroke="#000" stroke-width="1.6"/>
<line x1="108.50" y1="456.07" x2="112.7" y2="456.07" stroke="#000" stroke-width="1.6"/>
<line x1="108.50" y1="449.18" x2="112.7" y2="449.18" stroke="#000" stroke-width="1.6"/>
<line x1="108.50" y1="442.29" x2="112.7" y2="442.29" stroke="#000" stroke-width="1.6"/>
<line x1="101.70" y1="435.40" x2="112.7" y2="435.40" stroke="#000" stroke-width="1.6"/>
<line x1="108.50" y1="428.51" x2="112.7" y2="428.51" stroke="#000" stroke-width="1.6"/>
<line x1="108.50" y1="421.62" x2="112.7" y2="421.62" stroke="#000" stroke-width="1.6"/>
<line x1="108.50" y1="414.73" x2="112.7" y2="414.73" stroke="#000" stroke-width="1.6"/>
<line x1="108.50" y1="407.84" x2="112.7" y2="407.84" stroke="#000" stroke-width="1.6"/>
<line x1="104.70" y1="400.95" x2="112.7" y2="400.95" stroke="#000" stroke-width="1.6"/>
<line x1="108.50" y1="394.06" x2="112.7" y2="394.06" stroke="#000" stroke-width="1.6"/>
<line x1="108.50" y1="387.17" x2="112.7" y2="387.17" stroke="#000" stroke-width="1.6"/>
<line x1="108.50" y1="380.28" x2="112.7" y2="380.28" stroke="#000" stroke-width="1.6"/>
<line x1="108.50" y1="373.39" x2="112.7" y2="373.39" stroke="#000" stroke-width="1.6"/>
<line x1="101.70" y1="366.50" x2="112.7" y2="366.50" stroke="#000" stroke-width="1.6"/>
<line x1="108.50" y1="359.61" x2="112.7" y2="359.61" stroke="#000" stroke-width="1.6"/>
<line x1="108.50" y1="352.72" x2="112.7" y2="352.72" stroke="#000" stroke-width="1.6"/>
<line x1="108.50" y1="345.83" x2="112.7" y2="345.83" stroke="#000" stroke-width="1.6"/>
<line x1="108.50" y1="338.94" x2="112.7" y2="338.94" stroke="#000" stroke-width="1.6"/>
<line x1="104.70" y1="332.05" x2="112.7" y2="332.05" stroke="#000" stroke-width="1.6"/>
<line x1="108.50" y1="325.16" x2="112.7" y2="325.16" stroke="#000" stroke-width="1.6"/>
<line x1="108.50" y1="318.27" x2="112.7" y2="318.27" stroke="#000" stroke-width="1.6"/>
<line x1="108.50" y1="311.38" x2="112.7" y2="311.38" stroke="#000" stroke-width="1.6"/>
<line x1="108.50" y1="304.49" x2="112.7" y2="304.49" stroke="#000" stroke-width="1.6"/>
<line x1="112.40" y1="504.3" x2="112.40" y2="515.3" stroke="#000" stroke-width="1.6"/>
<line x1="119.69" y1="504.3" x2="119.69" y2="508.8" stroke="#000" stroke-width="1.6"/>
<line x1="126.98" y1="504.3" x2="126.98" y2="508.8" stroke="#000" stroke-width="1.6"/>
<line x1="134.27" y1="504.3" x2="134.27" y2="508.8" stroke="#000" stroke-width="1.6"/>
<line x1="141.56" y1="504.3" x2="141.56" y2="508.8" stroke="#000" stroke-width="1.6"/>
<line x1="148.85" y1="504.3" x2="148.85" y2="511.8" stroke="#000" stroke-width="1.6"/>
<line x1="156.14" y1="504.3" x2="156.14" y2="508.8" stroke="#000" stroke-width="1.6"/>
<line x1="163.43" y1="504.3" x2="163.43" y2="508.8" stroke="#000" stroke-width="1.6"/>
<line x1="170.72" y1="504.3" x2="170.72" y2="508.8" stroke="#000" stroke-width="1.6"/>
<line x1="178.01" y1="504.3" x2="178.01" y2="508.8" stroke="#000" stroke-width="1.6"/>
<line x1="185.30" y1="504.3" x2="185.30" y2="515.3" stroke="#000" stroke-width="1.6"/>
<line x1="192.81" y1="504.3" x2="192.81" y2="508.8" stroke="#000" stroke-width="1.6"/>
<line x1="200.32" y1="504.3" x2="200.32" y2="508.8" stroke="#000" stroke-width="1.6"/>
<line x1="207.83" y1="504.3" x2="207.83" y2="508.8" stroke="#000" stroke-width="1.6"/>
<line x1="215.34" y1="504.3" x2="215.34" y2="508.8" stroke="#000" stroke-width="1.6"/>
<line x1="222.85" y1="504.3" x2="222.85" y2="511.8" stroke="#000" stroke-width="1.6"/>
<line x1="230.36" y1="504.3" x2="230.36" y2="508.8" stroke="#000" stroke-width="1.6"/>
<line x1="237.87" y1="504.3" x2="237.87" y2="508.8" stroke="#000" stroke-width="1.6"/>
<line x1="245.38" y1="504.3" x2="245.38" y2="508.8" stroke="#000" stroke-width="1.6"/>
<line x1="252.89" y1="504.3" x2="252.89" y2="508.8" stroke="#000" stroke-width="1.6"/>
<line x1="260.40" y1="504.3" x2="260.40" y2="515.3" stroke="#000" stroke-width="1.6"/>
<line x1="267.86" y1="504.3" x2="267.86" y2="508.8" stroke="#000" stroke-width="1.6"/>
<line x1="275.32" y1="504.3" x2="275.32" y2="508.8" stroke="#000" stroke-width="1.6"/>
<line x1="282.78" y1="504.3" x2="282.78" y2="508.8" stroke="#000" stroke-width="1.6"/>
<line x1="290.24" y1="504.3" x2="290.24" y2="508.8" stroke="#000" stroke-width="1.6"/>
<line x1="297.70" y1="504.3" x2="297.70" y2="511.8" stroke="#000" stroke-width="1.6"/>
<line x1="305.16" y1="504.3" x2="305.16" y2="508.8" stroke="#000" stroke-width="1.6"/>
<line x1="312.62" y1="504.3" x2="312.62" y2="508.8" stroke="#000" stroke-width="1.6"/>
<line x1="320.08" y1="504.3" x2="320.08" y2="508.8" stroke="#000" stroke-width="1.6"/>
<line x1="327.54" y1="504.3" x2="327.54" y2="508.8" stroke="#000" stroke-width="1.6"/>
<line x1="335.00" y1="504.3" x2="335.00" y2="515.3" stroke="#000" stroke-width="1.6"/>
<line x1="342.36" y1="504.3" x2="342.36" y2="508.8" stroke="#000" stroke-width="1.6"/>
<line x1="349.72" y1="504.3" x2="349.72" y2="508.8" stroke="#000" stroke-width="1.6"/>
<line x1="357.08" y1="504.3" x2="357.08" y2="508.8" stroke="#000" stroke-width="1.6"/>
<line x1="364.44" y1="504.3" x2="364.44" y2="508.8" stroke="#000" stroke-width="1.6"/>
<line x1="371.80" y1="504.3" x2="371.80" y2="511.8" stroke="#000" stroke-width="1.6"/>
<line x1="379.16" y1="504.3" x2="379.16" y2="508.8" stroke="#000" stroke-width="1.6"/>
<line x1="386.52" y1="504.3" x2="386.52" y2="508.8" stroke="#000" stroke-width="1.6"/>
<line x1="393.88" y1="504.3" x2="393.88" y2="508.8" stroke="#000" stroke-width="1.6"/>
<line x1="401.24" y1="504.3" x2="401.24" y2="508.8" stroke="#000" stroke-width="1.6"/>
<line x1="408.60" y1="504.3" x2="408.60" y2="515.3" stroke="#000" stroke-width="1.6"/>
<line x1="416.07" y1="504.3" x2="416.07" y2="508.8" stroke="#000" stroke-width="1.6"/>
<line x1="423.54" y1="504.3" x2="423.54" y2="508.8" stroke="#000" stroke-width="1.6"/>
<line x1="431.01" y1="504.3" x2="431.01" y2="508.8" stroke="#000" stroke-width="1.6"/>
<line x1="438.48" y1="504.3" x2="438.48" y2="508.8" stroke="#000" stroke-width="1.6"/>
<line x1="445.95" y1="504.3" x2="445.95" y2="511.8" stroke="#000" stroke-width="1.6"/>
<line x1="453.42" y1="504.3" x2="453.42" y2="508.8" stroke="#000" stroke-width="1.6"/>
<line x1="460.89" y1="504.3" x2="460.89" y2="508.8" stroke="#000" stroke-width="1.6"/>
<line x1="468.36" y1="504.3" x2="468.36" y2="508.8" stroke="#000" stroke-width="1.6"/>
<line x1="475.83" y1="504.3" x2="475.83" y2="508.8" stroke="#000" stroke-width="1.6"/>
<line x1="483.30" y1="504.3" x2="483.30" y2="515.3" stroke="#000" stroke-width="1.6"/>
<line x1="490.76" y1="504.3" x2="490.76" y2="508.8" stroke="#000" stroke-width="1.6"/>
<line x1="498.22" y1="504.3" x2="498.22" y2="508.8" stroke="#000" stroke-width="1.6"/>
<line x1="505.68" y1="504.3" x2="505.68" y2="508.8" stroke="#000" stroke-width="1.6"/>
<line x1="513.14" y1="504.3" x2="513.14" y2="508.8" stroke="#000" stroke-width="1.6"/>
<line x1="520.60" y1="504.3" x2="520.60" y2="511.8" stroke="#000" stroke-width="1.6"/>
<line x1="528.06" y1="504.3" x2="528.06" y2="508.8" stroke="#000" stroke-width="1.6"/>
<line x1="535.52" y1="504.3" x2="535.52" y2="508.8" stroke="#000" stroke-width="1.6"/>
<line x1="542.98" y1="504.3" x2="542.98" y2="508.8" stroke="#000" stroke-width="1.6"/>
<line x1="550.44" y1="504.3" x2="550.44" y2="508.8" stroke="#000" stroke-width="1.6"/>
<line x1="557.90" y1="504.3" x2="557.90" y2="515.3" stroke="#000" stroke-width="1.6"/>
<line x1="565.29" y1="504.3" x2="565.29" y2="508.8" stroke="#000" stroke-width="1.6"/>
<line x1="572.68" y1="504.3" x2="572.68" y2="508.8" stroke="#000" stroke-width="1.6"/>
<line x1="580.07" y1="504.3" x2="580.07" y2="508.8" stroke="#000" stroke-width="1.6"/>
<line x1="587.46" y1="504.3" x2="587.46" y2="508.8" stroke="#000" stroke-width="1.6"/>
<line x1="594.85" y1="504.3" x2="594.85" y2="511.8" stroke="#000" stroke-width="1.6"/>
<line x1="602.24" y1="504.3" x2="602.24" y2="508.8" stroke="#000" stroke-width="1.6"/>
<line x1="609.63" y1="504.3" x2="609.63" y2="508.8" stroke="#000" stroke-width="1.6"/>
<line x1="617.02" y1="504.3" x2="617.02" y2="508.8" stroke="#000" stroke-width="1.6"/>
<line x1="624.41" y1="504.3" x2="624.41" y2="508.8" stroke="#000" stroke-width="1.6"/>
<line x1="631.80" y1="504.3" x2="631.80" y2="515.3" stroke="#000" stroke-width="1.6"/>
<rect x="330" y="302.5" width="240" height="26" fill="#fff"/>
<text transform="translate(229.30,12.90) scale(0.9969,0.9705)" font-family="Liberation Serif" font-weight="bold" font-size="17" fill="#111">Size Distribution by Number</text>
<text transform="translate(1.02,45.22) scale(1.0756,0.9506)" font-family="Liberation Serif" font-weight="bold" font-size="21" fill="#111">(a)</text>
<text transform="translate(308.60,269.47) scale(0.9963,0.9508)" font-family="Liberation Serif" font-weight="bold" font-size="17" fill="#111">Size (d.nm)</text>
<text transform="translate(77.93,283.30) scale(1.0286,0.9705)" font-family="Liberation Serif" font-weight="bold" font-size="17" fill="#111">(b)</text>
<text transform="translate(317.84,563.95) scale(1.0118,0.9297)" font-family="Liberation Serif" font-weight="bold" font-size="20" fill="#111">2θ (degree)</text>
<text transform="translate(29.60,175.45) scale(0.9705,0.9940) rotate(-90)" font-family="Liberation Serif" font-weight="bold" font-size="17" fill="#111">Number (%)</text>
<text transform="translate(49.03,440.27) scale(0.9681,1.0247) rotate(-90)" font-family="Liberation Serif" font-weight="bold" font-size="19" fill="#111">Intensity</text>
<text transform="translate(417.00,321.22) scale(1.0039,0.9920)" font-family="Liberation Serif" font-weight="normal" font-size="13.8" fill="#111">CuO nanoparticles</text>
<text transform="translate(44.80,46.60) scale(0.9283,1.1111)" font-family="Liberation Sans" font-weight="normal" font-size="13" fill="#2a2a2a" stroke="#2a2a2a" stroke-width="0.35">25</text>
<text transform="translate(45.02,82.60) scale(0.9132,1.1111)" font-family="Liberation Sans" font-weight="normal" font-size="13" fill="#2a2a2a" stroke="#2a2a2a" stroke-width="0.35">20</text>
<text transform="translate(44.62,118.30) scale(0.9846,1.0556)" font-family="Liberation Sans" font-weight="normal" font-size="13" fill="#2a2a2a" stroke="#2a2a2a" stroke-width="0.35">15</text>
<text transform="translate(44.85,154.00) scale(0.9538,1.0111)" font-family="Liberation Sans" font-weight="normal" font-size="13" fill="#2a2a2a" stroke="#2a2a2a" stroke-width="0.35">10</text>
<text transform="translate(52.02,190.20) scale(0.9600,1.0333)" font-family="Liberation Sans" font-weight="normal" font-size="13" fill="#2a2a2a" stroke="#2a2a2a" stroke-width="0.35">5</text>
<text transform="translate(51.54,226.50) scale(0.9120,0.9889)" font-family="Liberation Sans" font-weight="normal" font-size="13" fill="#2a2a2a" stroke="#2a2a2a" stroke-width="0.35">0</text>
<text transform="translate(54.89,244.10) scale(0.8118,1.0222)" font-family="Liberation Sans" font-weight="normal" font-size="13" fill="#2a2a2a" stroke="#2a2a2a" stroke-width="0.35">0.1</text>
<text transform="translate(175.47,244.60) scale(0.7273,1.1111)" font-family="Liberation Sans" font-weight="normal" font-size="13" fill="#2a2a2a" stroke="#2a2a2a" stroke-width="0.35">1</text>
<text transform="translate(289.55,244.60) scale(0.9538,1.1111)" font-family="Liberation Sans" font-weight="normal" font-size="13" fill="#2a2a2a" stroke="#2a2a2a" stroke-width="0.35">10</text>
<text transform="translate(402.78,244.40) scale(0.9235,1.0667)" font-family="Liberation Sans" font-weight="normal" font-size="13" fill="#2a2a2a" stroke="#2a2a2a" stroke-width="0.35">100</text>
<text transform="translate(516.08,244.40) scale(0.9164,1.0667)" font-family="Liberation Sans" font-weight="normal" font-size="13" fill="#2a2a2a" stroke="#2a2a2a" stroke-width="0.35">1000</text>
<text transform="translate(629.93,244.30) scale(0.8748,0.9778)" font-family="Liberation Sans" font-weight="normal" font-size="13" fill="#2a2a2a" stroke="#2a2a2a" stroke-width="0.35">10000</text>
<text transform="translate(69.57,371.40) scale(0.9381,1.0333)" font-family="Liberation Sans" font-weight="normal" font-size="13" fill="#2a2a2a" stroke="#2a2a2a" stroke-width="0.3">4000</text>
<text transform="translate(69.38,439.70) scale(0.9658,0.9333)" font-family="Liberation Sans" font-weight="normal" font-size="13" fill="#2a2a2a" stroke="#2a2a2a" stroke-width="0.3">2000</text>
<text transform="translate(90.70,509.40) scale(0.9920,0.9333)" font-family="Liberation Sans" font-weight="normal" font-size="13" fill="#2a2a2a" stroke="#2a2a2a" stroke-width="0.3">0</text>
<text transform="translate(104.90,527.00) scale(0.9538,1.0222)" font-family="Liberation Sans" font-weight="normal" font-size="13" fill="#2a2a2a" stroke="#2a2a2a" stroke-width="0.3">10</text>
<text transform="translate(177.80,527.00) scale(0.9358,1.0222)" font-family="Liberation Sans" font-weight="normal" font-size="13" fill="#2a2a2a" stroke="#2a2a2a" stroke-width="0.3">20</text>
<text transform="translate(253.04,527.00) scale(0.9185,1.0222)" font-family="Liberation Sans" font-weight="normal" font-size="13" fill="#2a2a2a" stroke="#2a2a2a" stroke-width="0.3">30</text>
<text transform="translate(327.97,527.00) scale(0.9018,1.0222)" font-family="Liberation Sans" font-weight="normal" font-size="13" fill="#2a2a2a" stroke="#2a2a2a" stroke-width="0.3">40</text>
<text transform="translate(400.84,527.00) scale(0.9185,1.0222)" font-family="Liberation Sans" font-weight="normal" font-size="13" fill="#2a2a2a" stroke="#2a2a2a" stroke-width="0.3">50</text>
<text transform="translate(475.60,527.00) scale(0.9358,1.0222)" font-family="Liberation Sans" font-weight="normal" font-size="13" fill="#2a2a2a" stroke="#2a2a2a" stroke-width="0.3">60</text>
<text transform="translate(550.70,527.00) scale(0.9358,1.0222)" font-family="Liberation Sans" font-weight="normal" font-size="13" fill="#2a2a2a" stroke="#2a2a2a" stroke-width="0.3">70</text>
<text transform="translate(625.54,527.00) scale(0.9185,1.0222)" font-family="Liberation Sans" font-weight="normal" font-size="13" fill="#2a2a2a" stroke="#2a2a2a" stroke-width="0.3">80</text>
<text transform="translate(280.60,430.45) scale(1.0100,0.9976) rotate(-90)" font-family="Liberation Sans" font-weight="normal" font-size="14.5" fill="#111" stroke="#111" stroke-width="0.25">110</text>
<text transform="translate(302.40,358.79) scale(0.9900,1.0582) rotate(-90)" font-family="Liberation Serif" font-weight="normal" font-size="15.5" fill="#111" stroke="#111" stroke-width="0.25">111</text>
<text transform="translate(327.80,359.82) scale(0.9700,0.8950) rotate(-90)" font-family="Liberation Sans" font-weight="normal" font-size="14.5" fill="#111" stroke="#111" stroke-width="0.25">111</text>
<text transform="translate(405.90,436.49) scale(0.9700,1.0558) rotate(-90)" font-family="Liberation Serif" font-weight="normal" font-size="15.5" fill="#111" stroke="#111" stroke-width="0.25">202</text>
<text transform="translate(438.80,448.31) scale(1.1000,1.0157) rotate(-90)" font-family="Liberation Serif" font-weight="normal" font-size="15.5" fill="#111" stroke="#111" stroke-width="0.25">020</text>
<text transform="translate(473.00,448.95) scale(0.9800,1.0022) rotate(-90)" font-family="Liberation Sans" font-weight="normal" font-size="14.5" fill="#111" stroke="#111" stroke-width="0.25">202</text>
<text transform="translate(501.50,447.45) scale(1.0200,1.0976) rotate(-90)" font-family="Liberation Serif" font-weight="normal" font-size="15.5" fill="#111" stroke="#111" stroke-width="0.25">113</text>
<text transform="translate(536.70,440.20) scale(1.0200,1.0043) rotate(-90)" font-family="Liberation Sans" font-weight="normal" font-size="14.5" fill="#111" stroke="#111" stroke-width="0.25">022</text>
<text transform="translate(580.90,457.53) scale(0.9600,1.1095) rotate(-90)" font-family="Liberation Serif" font-weight="normal" font-size="15.5" fill="#111" stroke="#111" stroke-width="0.25">311</text>
<text transform="translate(599.90,456.82) scale(1.0700,1.0400) rotate(-90)" font-family="Liberation Serif" font-weight="normal" font-size="15.5" fill="#111" stroke="#111" stroke-width="0.25">004</text>
<line x1="289.9" y1="351.3" x2="289.9" y2="357.5" stroke="#222" stroke-width="1"/>
<line x1="393.4" y1="429.6" x2="393.4" y2="435.7" stroke="#222" stroke-width="1"/>
<line x1="488.6" y1="439.3" x2="488.6" y2="446.1" stroke="#222" stroke-width="1"/>
<line x1="568.5" y1="450.7" x2="568.5" y2="456.6" stroke="#222" stroke-width="1"/>
</svg></body></html>
